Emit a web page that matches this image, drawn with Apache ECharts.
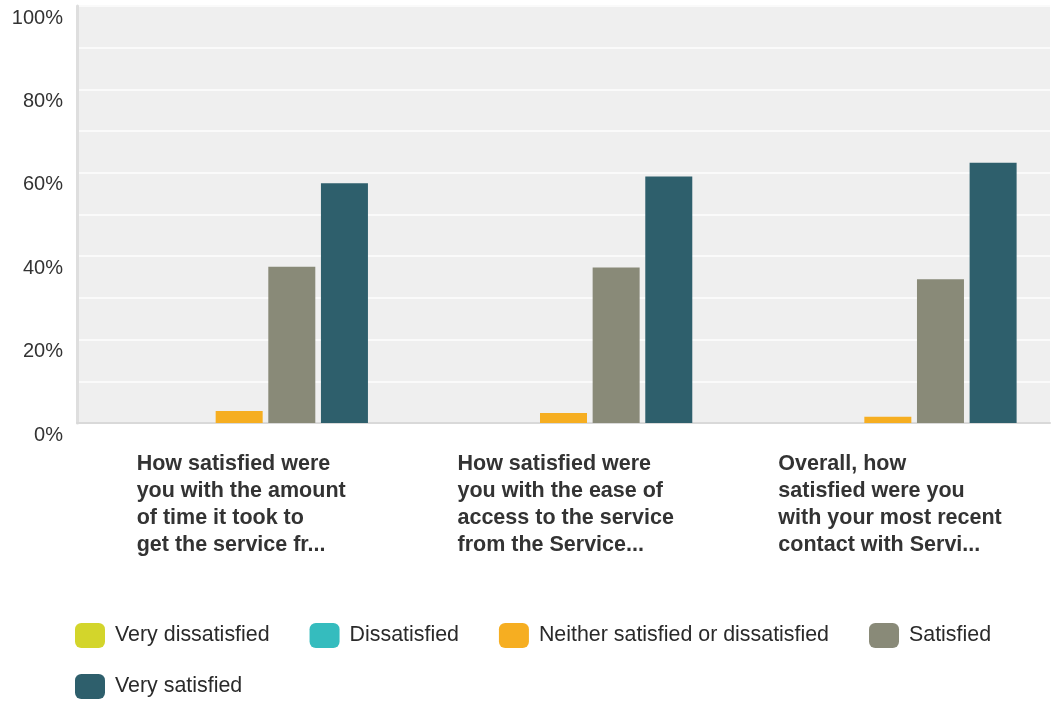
<!DOCTYPE html>
<html>
<head>
<meta charset="utf-8">
<title>Service satisfaction</title>
<script src="https://cdn.jsdelivr.net/npm/echarts@6/dist/echarts.min.js"></script>
<style>
  html, body { margin: 0; padding: 0; background: #ffffff; }
  #chart { width: 1051px; height: 701px; }
</style>
</head>
<body>
<div id="chart"></div>
<script>
// Survey questions (already shortened, one array entry per printed line)
const questionLines = [
  ['How satisfied were', 'you with the amount', 'of time it took to', 'get the service fr...'],
  ['How satisfied were', 'you with the ease of', 'access to the service', 'from the Service...'],
  ['Overall, how', 'satisfied were you', 'with your most recent', 'contact with Servi...']
];
const categories = questionLines.map(l => l.join('\n'));

// Answer options
const seriesNames = ['Very dissatisfied', 'Dissatisfied', 'Neither satisfied or dissatisfied', 'Satisfied', 'Very satisfied'];

// Share of respondents per answer (%)
const veryDissatisfied = [0, 0, 0];
const dissatisfied = [0, 0, 0];
const neither = [2.9, 2.4, 1.5];
const satisfied = [37.5, 37.3, 34.5];
const verySatisfied = [57.5, 59.1, 62.4];

// Percent ticks that carry a label
const labelledTicks = [0, 20, 40, 60, 80, 100];

const seriesValues = [veryDissatisfied, dissatisfied, neither, satisfied, verySatisfied];
const colors = ['#d3d52b', '#35bcbe', '#f6ae21', '#898a78', '#2e5f6c'];

// Category labels: block is centred under the group, lines are left aligned inside it
const fontFamily = '"Liberation Sans", Arial, sans-serif';
const labelSize = 21.5;
const measureCtx = document.createElement('canvas').getContext('2d');
measureCtx.font = 'bold ' + labelSize + 'px ' + fontFamily;
const rich = {};
questionLines.forEach((lines, i) => {
  const w = Math.ceil(Math.max(...lines.map(t => measureCtx.measureText(t).width)));
  rich['c' + i] = {
    width: w,
    align: 'left',
    fontFamily: fontFamily,
    fontWeight: 'bold',
    fontSize: labelSize,
    lineHeight: 27,
    color: '#333333'
  };
});

const chart = echarts.init(document.getElementById('chart'), null, { renderer: 'canvas' });

const legendText = {
  fontFamily: fontFamily,
  fontSize: 21.4,
  color: '#2a2a2a',
  lineHeight: 25,
  padding: [0, 0, 0, 5]
};

chart.setOption({
  animation: false,
  backgroundColor: '#ffffff',
  grid: {
    left: 77, right: 1, top: 6, bottom: 278,
    show: true,
    backgroundColor: '#efefef',
    borderWidth: 0
  },
  legend: [
    {
      data: seriesNames.slice(0, 4),
      left: 70, top: 618,
      orient: 'horizontal',
      itemWidth: 30, itemHeight: 25,
      itemGap: 40,
      icon: 'roundRect',
      selectedMode: false,
      textStyle: legendText
    },
    {
      data: seriesNames.slice(4),
      left: 70, top: 669,
      orient: 'horizontal',
      itemWidth: 30, itemHeight: 25,
      icon: 'roundRect',
      selectedMode: false,
      textStyle: legendText
    }
  ],
  xAxis: {
    type: 'category',
    data: categories,
    axisTick: { show: false },
    axisLine: { show: true, lineStyle: { color: '#d9d9d9', width: 2 } },
    axisLabel: {
      interval: 0,
      margin: 28,
      align: 'center',
      verticalAlign: 'top',
      padding: [0, 0, 0, 5],
      formatter: (value, index) => value.split('\n').map(t => '{c' + index + '|' + t + '}').join('\n'),
      rich: rich
    },
    splitLine: { show: false }
  },
  yAxis: {
    type: 'value',
    min: 0, max: 100, interval: 10,
    axisLine: { show: true, lineStyle: { color: '#dedede', width: 3 } },
    axisTick: { show: false },
    axisLabel: {
      margin: 14,
      verticalAlign: 'top',
      padding: [2, 0, 0, 0],
      fontFamily: fontFamily,
      fontSize: 20,
      color: '#333333',
      formatter: v => labelledTicks.includes(v) ? v + '%' : ''
    },
    splitLine: { show: true, lineStyle: { color: '#fafafa', width: 2 } }
  },
  series: seriesNames.map((name, i) => ({
    name: name,
    type: 'bar',
    data: seriesValues[i],
    barWidth: 47,
    barGap: '12%',
    itemStyle: {
      color: colors[i],
      borderWidth: 0
    }
  }))
});
</script>
</body>
</html>
